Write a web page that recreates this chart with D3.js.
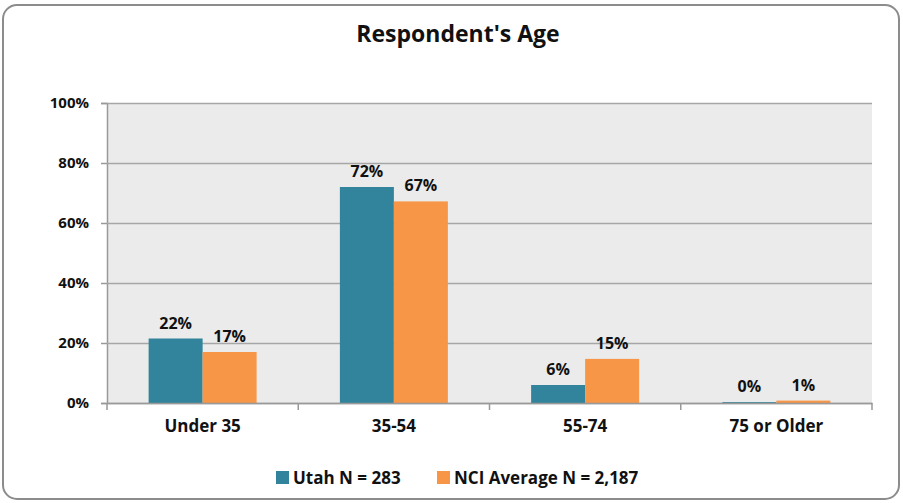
<!DOCTYPE html>
<html>
<head>
<meta charset="utf-8">
<script src="https://cdn.jsdelivr.net/npm/d3@7"></script>
<style>
  body { margin: 0; background: #fff; }
  text { font-family: "Open Sans", sans-serif; font-weight: bold; fill: #111; }
</style>
</head>
<body>
<svg id="chart" width="903" height="503"></svg>
<script>
// data
const categories = ["Under 35", "35-54", "55-74", "75 or Older"]
const seriesNames = ["Utah N = 283", "NCI Average N = 2,187"]
const utah = [0.215, 0.72, 0.06, 0.003]
const nci = [0.17, 0.672, 0.147, 0.008]
const utahLabels = ["22%", "72%", "6%", "0%"]
const nciLabels = ["17%", "67%", "15%", "1%"]
const yTicks = [0, 0.2, 0.4, 0.6, 0.8, 1.0]

const teal = "#31849b", orange = "#f79646"
const colors = [teal, orange]

const svg = d3.select("#chart")

// outer frame
svg.append("rect")
  .attr("x", 3).attr("y", 5).attr("width", 896).attr("height", 494)
  .attr("rx", 14)
  .attr("fill", "#fff").attr("stroke", "#8c8c8c").attr("stroke-width", 2)

svg.append("text")
  .attr("x", 458).attr("y", 42)
  .attr("text-anchor", "middle")
  .style("font-size", "23px")
  .text("Respondent's Age")

const plotL = 107, plotR = 872, plotT = 103, plotB = 403

const xScale = d3.scaleBand().domain(categories).range([plotL, plotR])
const inner = d3.scaleBand().domain([0, 1]).range([0, 108])
const yScale = d3.scaleLinear().domain([0, 1]).range([plotB, plotT])

// plot background
svg.append("rect")
  .attr("x", plotL).attr("y", plotT)
  .attr("width", plotR - plotL).attr("height", plotB - plotT)
  .attr("fill", "#ebebeb")

// gridlines + y axis
const yAxis = d3.axisLeft(yScale)
  .tickValues(yTicks)
  .tickFormat(d3.format(".0%"))
  .tickSize(6)
  .tickPadding(12)
const yG = svg.append("g").attr("transform", `translate(${plotL},0)`).call(yAxis)
yG.select(".domain").attr("stroke", "#999").attr("stroke-width", 1.5)
yG.selectAll(".tick line").attr("stroke", "#999").attr("stroke-width", 1.5)
yG.selectAll(".tick text").style("font-size", "15px").attr("fill", "#111")
yG.selectAll(".tick").append("line")
  .attr("x1", 0).attr("x2", plotR - plotL)
  .attr("stroke", "#a6a6a6").attr("stroke-width", 1.5)

// bars
const groups = svg.selectAll("g.cat")
  .data(categories)
  .enter().append("g")
  .attr("class", "cat")
  .attr("transform", d => `translate(${xScale(d) + (xScale.bandwidth() - 108) / 2},0)`)

const rows = categories.map((c, i) => [
  { s: 0, v: utah[i], lab: utahLabels[i] },
  { s: 1, v: nci[i], lab: nciLabels[i] }
])

groups.selectAll("rect")
  .data((d, i) => rows[i])
  .enter().append("rect")
  .attr("x", d => inner(d.s))
  .attr("y", d => yScale(d.v))
  .attr("width", inner.bandwidth())
  .attr("height", d => plotB - yScale(d.v))
  .attr("fill", d => colors[d.s])

groups.selectAll("text.val")
  .data((d, i) => rows[i])
  .enter().append("text")
  .attr("class", "val")
  .attr("x", d => inner(d.s) + inner.bandwidth() / 2)
  .attr("y", d => yScale(d.v) - 10)
  .attr("text-anchor", "middle")
  .style("font-size", "16px")
  .text(d => d.lab)

// x axis
const xAxis = d3.axisBottom(xScale).tickSize(0).tickPadding(17)
const xG = svg.append("g").attr("transform", `translate(0,${plotB})`).call(xAxis)
xG.select(".domain").attr("stroke", "#999").attr("stroke-width", 1.5)
xG.selectAll(".tick text").style("font-size", "17px").attr("fill", "#111")
svg.append("g").selectAll("line")
  .data(categories.concat([null]))
  .enter().append("line")
  .attr("x1", (d, i) => i < categories.length ? xScale(d) : plotR)
  .attr("x2", (d, i) => i < categories.length ? xScale(d) : plotR)
  .attr("y1", plotB).attr("y2", plotB + 7)
  .attr("stroke", "#999").attr("stroke-width", 1.5)

// legend
const legendX = [276, 437]
const legend = svg.selectAll("g.leg")
  .data(seriesNames)
  .enter().append("g")
  .attr("class", "leg")
  .attr("transform", (d, i) => `translate(${legendX[i]},471)`)
legend.append("rect")
  .attr("width", 13).attr("height", 13)
  .attr("fill", (d, i) => colors[i])
legend.append("text")
  .attr("x", 17).attr("y", 13)
  .style("font-size", "17px")
  .text(d => d)
</script>
</body>
</html>
